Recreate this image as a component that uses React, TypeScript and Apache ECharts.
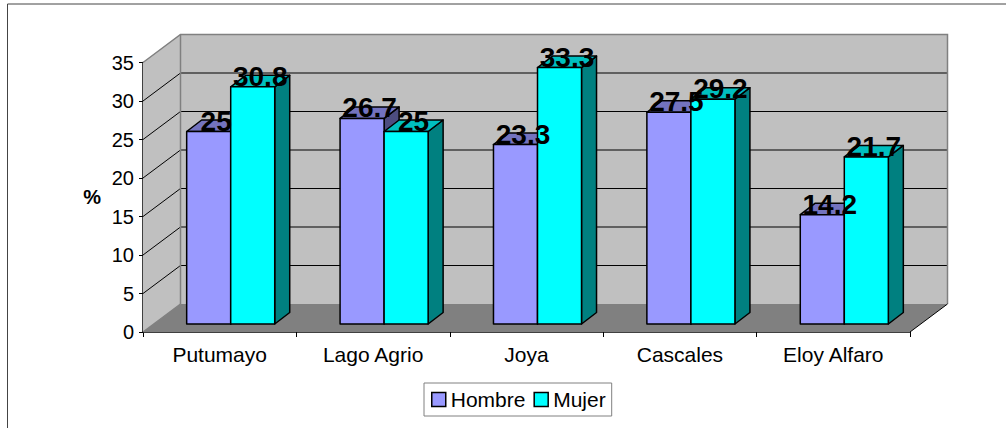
import React, { useEffect, useRef } from "react";
import * as echarts from "echarts";

const categories = ["Putumayo", "Lago Agrio", "Joya", "Cascales", "Eloy Alfaro"];
const hombre = [25, 26.7, 23.3, 27.5, 14.2];
const mujer = [30.8, 25, 33.3, 29.2, 21.7];
const yTicks = [0, 5, 10, 15, 20, 25, 30, 35];

const FONT = '"Liberation Sans", Arial, sans-serif';
const WALL = { dx: 37.5, dy: -28 };
const BAR_FRONT = { dx: 11, dy: -8 };
const BAR_DEPTH = { dx: 15, dy: -11.5 };
const BAR_W = 0.287;

function wallsItem(params: any, api: any) {
  const cs = params.coordSys;
  const l = cs.x, r = cs.x + cs.width, b = cs.y + cs.height;
  const t = cs.y;
  const { dx, dy } = WALL;
  const children: any[] = [
    { type: "polygon", shape: { points: [[l + dx, t + dy], [r + dx, t + dy], [r + dx, b + dy], [l + dx, b + dy]] }, style: { fill: "#c0c0c0", stroke: "none" } },
    { type: "polygon", shape: { points: [[l, t], [l + dx, t + dy], [l + dx, b + dy], [l, b]] }, style: { fill: "#c0c0c0", stroke: "none" } },
    { type: "polygon", shape: { points: [[l, b], [r, b], [r + dx, b + dy], [l + dx, b + dy]] }, style: { fill: "#808080", stroke: "none" } },
  ];
  yTicks.filter((v) => v > 0 && v < 35).forEach((v) => {
    const y = api.coord([0, v])[1];
    children.push({ type: "polyline", shape: { points: [[l, y], [l + dx, y + dy], [r + dx, y + dy]] }, style: { fill: "none", stroke: "#000", lineWidth: 1 } });
  });
  const gray = { fill: "none", stroke: "#808080", lineWidth: 1.5 };
  children.push(
    { type: "polyline", shape: { points: [[l, t], [l + dx, t + dy], [r + dx, t + dy], [r + dx, b + dy]] }, style: gray },
    { type: "polyline", shape: { points: [[l + dx, t + dy], [l + dx, b + dy]] }, style: gray },
    { type: "polyline", shape: { points: [[l, b], [l + dx, b + dy]] }, style: gray },
    { type: "polyline", shape: { points: [[r, b], [r + dx, b + dy]] }, style: { fill: "none", stroke: "#000", lineWidth: 1 } }
  );
  return { type: "group", children };
}

function barItem(side: number, front: string, top: string, right: string) {
  return (_p: any, api: any) => {
    const band = api.size([1, 0])[0];
    const w = band * BAR_W;
    const [cx, yTop] = api.coord([api.value(0), api.value(1)]);
    const yBase = api.coord([0, 0])[1];
    const x0 = cx + BAR_FRONT.dx + (side < 0 ? -w : 0);
    const x1 = x0 + w;
    const y0 = yBase + BAR_FRONT.dy;
    const y1 = yTop + BAR_FRONT.dy;
    const { dx, dy } = BAR_DEPTH;
    const line = { stroke: "#000", lineWidth: 1.5, lineJoin: "round" };
    return {
      type: "group",
      children: [
        { type: "polygon", shape: { points: [[x1, y0], [x1 + dx, y0 + dy], [x1 + dx, y1 + dy], [x1, y1]] }, style: { fill: right, ...line } },
        { type: "polygon", shape: { points: [[x0, y1], [x1, y1], [x1 + dx, y1 + dy], [x0 + dx, y1 + dy]] }, style: { fill: top, ...line } },
        { type: "rect", shape: { x: x0, y: y1, width: w, height: y0 - y1 }, style: { fill: front, ...line } },
      ],
    };
  };
}

function labelItem(_p: any, api: any) {
  const band = api.size([1, 0])[0];
  const w = band * BAR_W;
  const [cx, yTop] = api.coord([api.value(0), api.value(1)]);
  const x = cx + BAR_FRONT.dx + api.value(2) * (w / 2) + BAR_DEPTH.dx / 2;
  return {
    type: "text",
    style: {
      text: String(api.value(1)),
      x,
      y: yTop + BAR_FRONT.dy - 10.5,
      align: "center",
      verticalAlign: "middle",
      font: `bold 28px ${FONT}`,
      fill: "#000",
    },
  };
}

export default function App() {
  const ref = useRef<HTMLDivElement>(null);
  useEffect(() => {
    document.body.style.margin = "0";
    const chart = echarts.init(ref.current!, null, { renderer: "svg" });
    const labelRows = [
      ...hombre.map((v, i) => [i, v, -1]),
      ...mujer.map((v, i) => [i, v, 1]),
    ];
    chart.setOption({
      animation: false,
      backgroundColor: "#fff",
      textStyle: { fontFamily: FONT },
      grid: { left: 143, top: 62.5, width: 767, height: 269.5 },
      graphic: [
        { type: "line", shape: { x1: 7.5, y1: 4, x2: 1006, y2: 4 }, style: { stroke: "#444", lineWidth: 1 } },
        { type: "line", shape: { x1: 7.5, y1: 4, x2: 7.5, y2: 428 }, style: { stroke: "#444", lineWidth: 1 } },
      ],
      legend: {
        data: ["Hombre", "Mujer"],
        left: 424,
        top: 383,
        orient: "horizontal",
        padding: [6, 6, 6, 7],
        itemGap: 8,
        itemWidth: 14,
        itemHeight: 14,
        icon: "rect",
        borderColor: "#808080",
        borderWidth: 1,
        backgroundColor: "#fff",
        itemStyle: { borderColor: "#000", borderWidth: 1.5 },
        textStyle: { fontFamily: FONT, fontSize: 21, color: "#000" },
      },
      xAxis: {
        type: "category",
        data: categories,
        axisLine: { show: true, lineStyle: { color: "#000", width: 1.5 } },
        axisTick: { show: true, length: 5, lineStyle: { color: "#000" } },
        axisLabel: { color: "#000", fontFamily: FONT, fontSize: 21, margin: 12, interval: 0 },
        splitLine: { show: false },
      },
      yAxis: {
        type: "value",
        min: 0,
        max: 35,
        interval: 5,
        name: "%",
        nameLocation: "middle",
        nameRotate: 0,
        nameGap: 42,
        nameTextStyle: { color: "#000", fontFamily: FONT, fontSize: 20, fontWeight: "bold" },
        axisLine: { show: true, lineStyle: { color: "#000", width: 1.5 } },
        axisTick: { show: true, length: 4, lineStyle: { color: "#000" } },
        axisLabel: { color: "#000", fontFamily: FONT, fontSize: 20, margin: 9 },
        splitLine: { show: false },
      },
      series: [
        { type: "custom", name: "walls", z: 1, silent: true, data: [[0, 0]], renderItem: wallsItem },
        { type: "custom", name: "Hombre", z: 2, itemStyle: { color: "#9999ff" }, data: hombre.map((v, i) => [i, v]), encode: { x: 0, y: 1 }, renderItem: barItem(-1, "#9999ff", "#7373bf", "#4d4d80") },
        { type: "custom", name: "Mujer", z: 3, itemStyle: { color: "#00ffff" }, data: mujer.map((v, i) => [i, v]), encode: { x: 0, y: 1 }, renderItem: barItem(1, "#00ffff", "#00bfbf", "#008080") },
        { type: "custom", name: "labels", z: 4, silent: true, data: labelRows, encode: { x: 0, y: 1 }, renderItem: labelItem },
      ],
    });
    return () => chart.dispose();
  }, []);
  return <div ref={ref} style={{ position: "fixed", left: 0, top: 0, width: 1006, height: 428 }} />;
}
